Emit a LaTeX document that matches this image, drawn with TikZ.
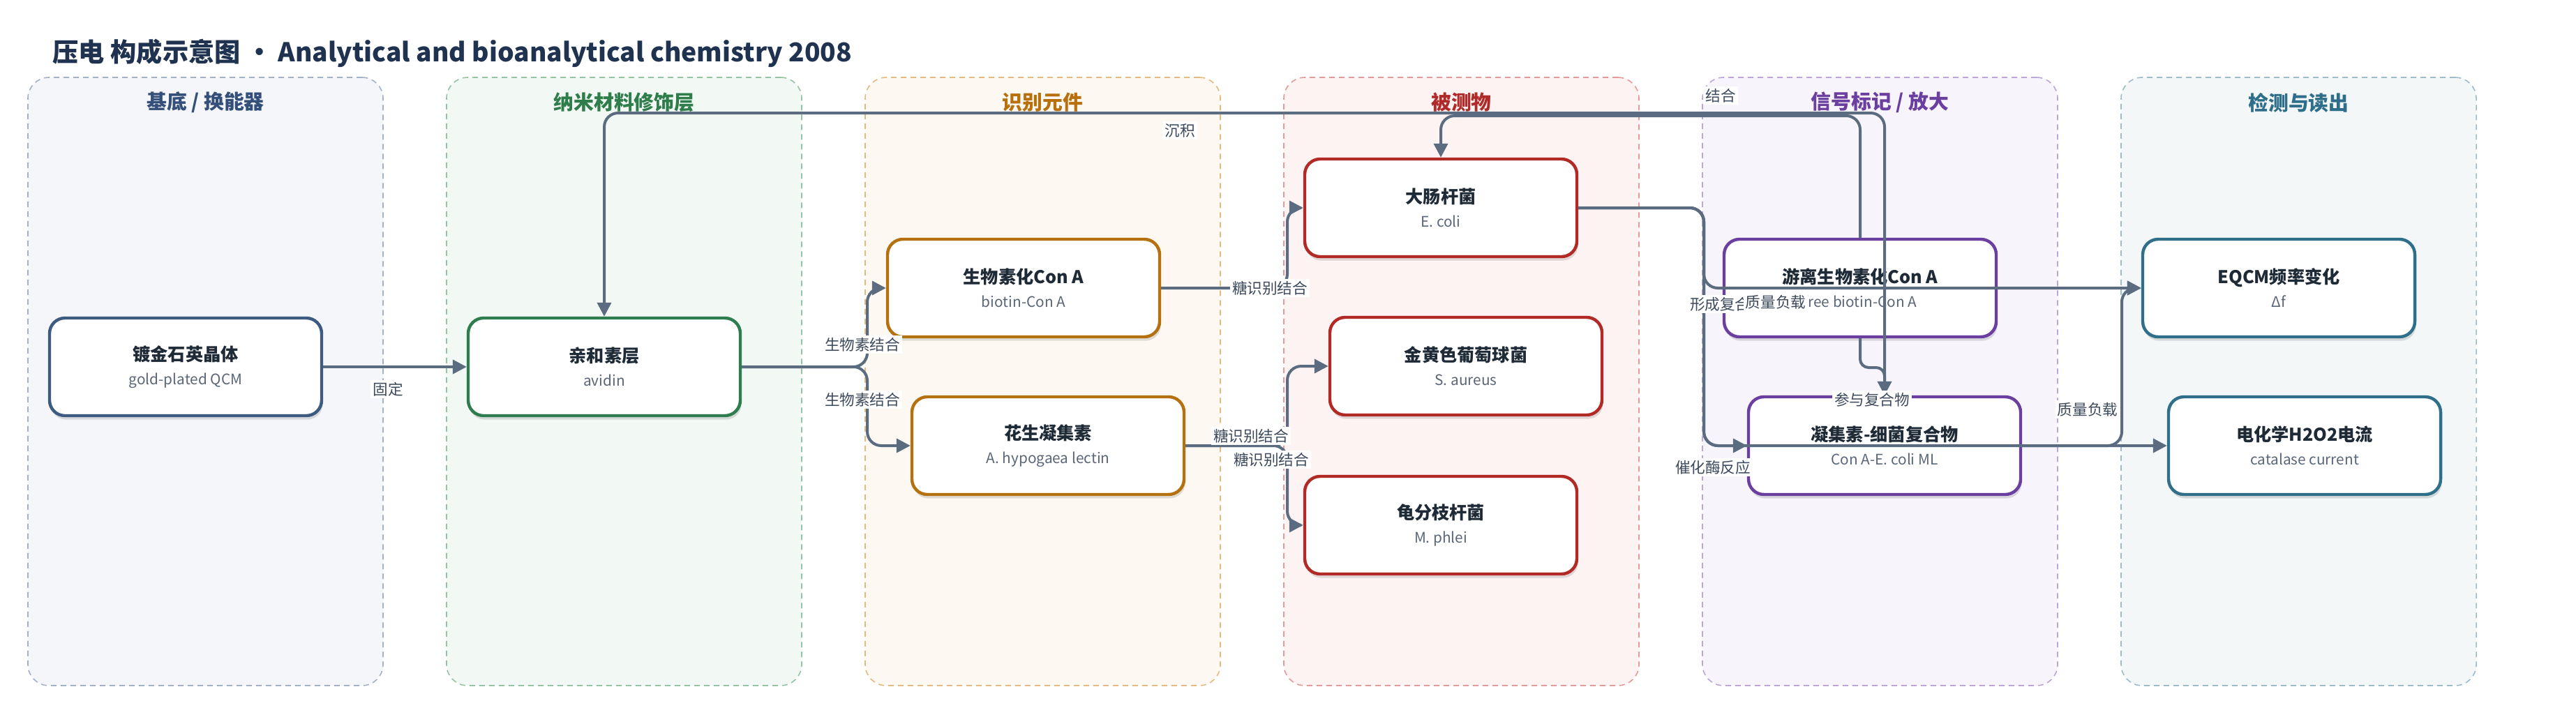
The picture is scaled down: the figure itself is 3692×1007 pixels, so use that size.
\documentclass[tikz,border=0pt]{standalone}
\usepackage{fontspec}
\setmainfont{Noto Sans CJK SC}
\usetikzlibrary{arrows.meta,shadows}
\definecolor{edgec}{HTML}{5B6B80}
\definecolor{labc}{HTML}{3D4A5C}
\definecolor{titc}{HTML}{1F3350}
\definecolor{ntc}{HTML}{1F2A37}
\definecolor{subc}{HTML}{5A6678}
\definecolor{fA}{HTML}{F5F6FA}\definecolor{dA}{HTML}{A3B1C8}\definecolor{tA}{HTML}{34507A}\definecolor{nA}{HTML}{3D5A80}
\definecolor{fB}{HTML}{F2F8F4}\definecolor{dB}{HTML}{94C4A4}\definecolor{tB}{HTML}{2E7D4A}\definecolor{nB}{HTML}{2E7D4F}
\definecolor{fC}{HTML}{FDF9F2}\definecolor{dC}{HTML}{E3BB80}\definecolor{tC}{HTML}{B8700D}\definecolor{nC}{HTML}{B5700F}
\definecolor{fD}{HTML}{FDF3F2}\definecolor{dD}{HTML}{E39A98}\definecolor{tD}{HTML}{B02A2A}\definecolor{nD}{HTML}{B22A26}
\definecolor{fE}{HTML}{F7F4FB}\definecolor{dE}{HTML}{BCA6D8}\definecolor{tE}{HTML}{6B3FA0}\definecolor{nE}{HTML}{6B3FA0}
\definecolor{fF}{HTML}{F3F7F8}\definecolor{dF}{HTML}{9CBCCB}\definecolor{tF}{HTML}{2E6E8A}\definecolor{nF}{HTML}{2F6F8A}
\newcommand\boxtext[2]{{\bfseries #1}\\{\fontsize{5.2}{8.5}\selectfont\color{subc}#2}}
\begin{document}
\begin{tikzpicture}[x=0.25pt,y=-0.25pt,
  lane/.style={draw, dash pattern=on 2pt off 1.5pt, line width=0.4pt, rounded corners=7.5pt,
    minimum width=127.25pt, minimum height=218pt, inner sep=0pt},
  lanetitle/.style={font=\bfseries\fontsize{7.2}{8}\selectfont, inner sep=0pt},
  box/.style={draw, fill=white, line width=1.1pt, rounded corners=5.5pt,
    minimum width=97.5pt, minimum height=35pt, align=center, inner sep=0pt,
    text=ntc, font=\fontsize{6.3}{8.5}\selectfont,
    drop shadow={shadow xshift=0.4pt, shadow yshift=-1.4pt, opacity=0.12, fill=black}},
  edge/.style={draw=edgec, line width=1pt, rounded corners=5pt,
    -{Triangle[length=5pt,width=5pt]}},
  lab/.style={fill=white, inner sep=0.8pt, text=labc, font=\fontsize{5.4}{6}\selectfont}
]
\useasboundingbox (0,0) rectangle (3692,1007);
% title
\node[anchor=west, inner sep=0pt, text=titc, font=\bfseries\fontsize{9.3}{11}\selectfont] (title) at (75,76)
  {压电 构成示意图 · Analytical and bioanalytical chemistry 2008};
% lanes
\node[lane, draw=dA, fill=fA] (L1) at (294.5,547) {};
\node[lane, draw=dB, fill=fB] (L2) at (894.5,547) {};
\node[lane, draw=dC, fill=fC] (L3) at (1494.5,547) {};
\node[lane, draw=dD, fill=fD] (L4) at (2094.5,547) {};
\node[lane, draw=dE, fill=fE] (L5) at (2694.5,547) {};
\node[lane, draw=dF, fill=fF] (L6) at (3294.5,547) {};
\node[lanetitle, text=tA] (T1) at (294.5,147) {基底 / 换能器};
\node[lanetitle, text=tB] (T2) at (894.5,147) {纳米材料修饰层};
\node[lanetitle, text=tC] (T3) at (1494.5,147) {识别元件};
\node[lanetitle, text=tD] (T4) at (2094.5,147) {被测物};
\node[lanetitle, text=tE] (T5) at (2694.5,147) {信号标记 / 放大};
\node[lanetitle, text=tF] (T6) at (3294.5,147) {检测与读出};
% nodes
\node[box, draw=nA] (q)  at (266,526)  {\boxtext{镀金石英晶体}{gold-plated QCM}};
\node[box, draw=nB] (av) at (866,526)  {\boxtext{亲和素层}{avidin}};
\node[box, draw=nC] (bc) at (1467,413) {\boxtext{生物素化Con A}{biotin-Con A}};
\node[box, draw=nC] (pl) at (1502,639) {\boxtext{花生凝集素}{A. hypogaea lectin}};
\node[box, draw=nD] (ec) at (2065,298) {\boxtext{大肠杆菌}{E. coli}};
\node[box, draw=nD] (sa) at (2101,525) {\boxtext{金黄色葡萄球菌}{S. aureus}};
\node[box, draw=nD] (mp) at (2065,753) {\boxtext{龟分枝杆菌}{M. phlei}};
\node[box, draw=nE] (fr) at (2666,413) {\boxtext{游离生物素化Con A}{free biotin-Con A}};
\node[box, draw=nE] (cx) at (2701,639) {\boxtext{凝集素-细菌复合物}{Con A-E. coli ML}};
\node[box, draw=nF] (eq) at (3266,413) {\boxtext{EQCM频率变化}{Δf}};
\node[box, draw=nF] (el) at (3303,639) {\boxtext{电化学H2O2电流}{catalase current}};
% routing coordinates
\coordinate (b1) at (1243,0);
\coordinate (b2) at (1845,0);
\coordinate (b3) at (2442,0);
\coordinate (b4) at (3041,0);
\coordinate (top1) at (0,162);
\coordinate (top2) at (0,166);
\coordinate (m5) at (0,527);
% edges
\draw[edge] (q.east) -- (av.west);
\draw[edge] (av.east) -- (av.east -| b1) |- (bc.west);
\draw[edge] (av.east) -- (av.east -| b1) |- (pl.west);
\draw[edge] (bc.east) -- (bc.east -| b2) |- (ec.west);
\draw[edge] (pl.east) -- (pl.east -| b2) |- (sa.west);
\draw[edge] (pl.east) -- (pl.east -| b2) |- (mp.west);
\draw[edge] (ec.east) -- (ec.east -| b3) |- (eq.west);
\draw[edge] (ec.east) -- (ec.east -| b3) |- (cx.west);
\draw[edge] (ec.east) -- (ec.east -| b3) |- (el.west);
\draw[edge] (cx.east) -- (cx.east -| b4) |- (eq.west);
\draw[edge, rounded corners=3pt] (fr.south) -- (fr.south |- m5) -| (cx.north);
\draw[edge] (fr.north) -- (fr.north |- top2) -| (ec.north);
\draw[edge] (cx.north) -- (cx.north |- top1) -| (av.north);
% labels
\node[lab] (l1)  at (556,558)  {固定};
\node[lab] (l2)  at (1236,494) {生物素结合};
\node[lab] (l3)  at (1236,573) {生物素结合};
\node[lab] (l4)  at (1820,413) {糖识别结合};
\node[lab] (l5)  at (1793,625) {糖识别结合};
\node[lab] (l6)  at (1822,659) {糖识别结合};
\node[lab] (l7)  at (1691,187) {沉积};
\node[lab] (l8)  at (2466,137) {结合};
\node[lab] (l9)  at (2476,436) {形成复合物};
\node[lab] (l10) at (2545,433) {质量负载};
\node[lab] (l11) at (2683,573) {参与复合物};
\node[lab] (l12) at (2455,670) {催化酶反应};
\node[lab] (l13) at (2992,587) {质量负载};
\end{tikzpicture}
\end{document}
